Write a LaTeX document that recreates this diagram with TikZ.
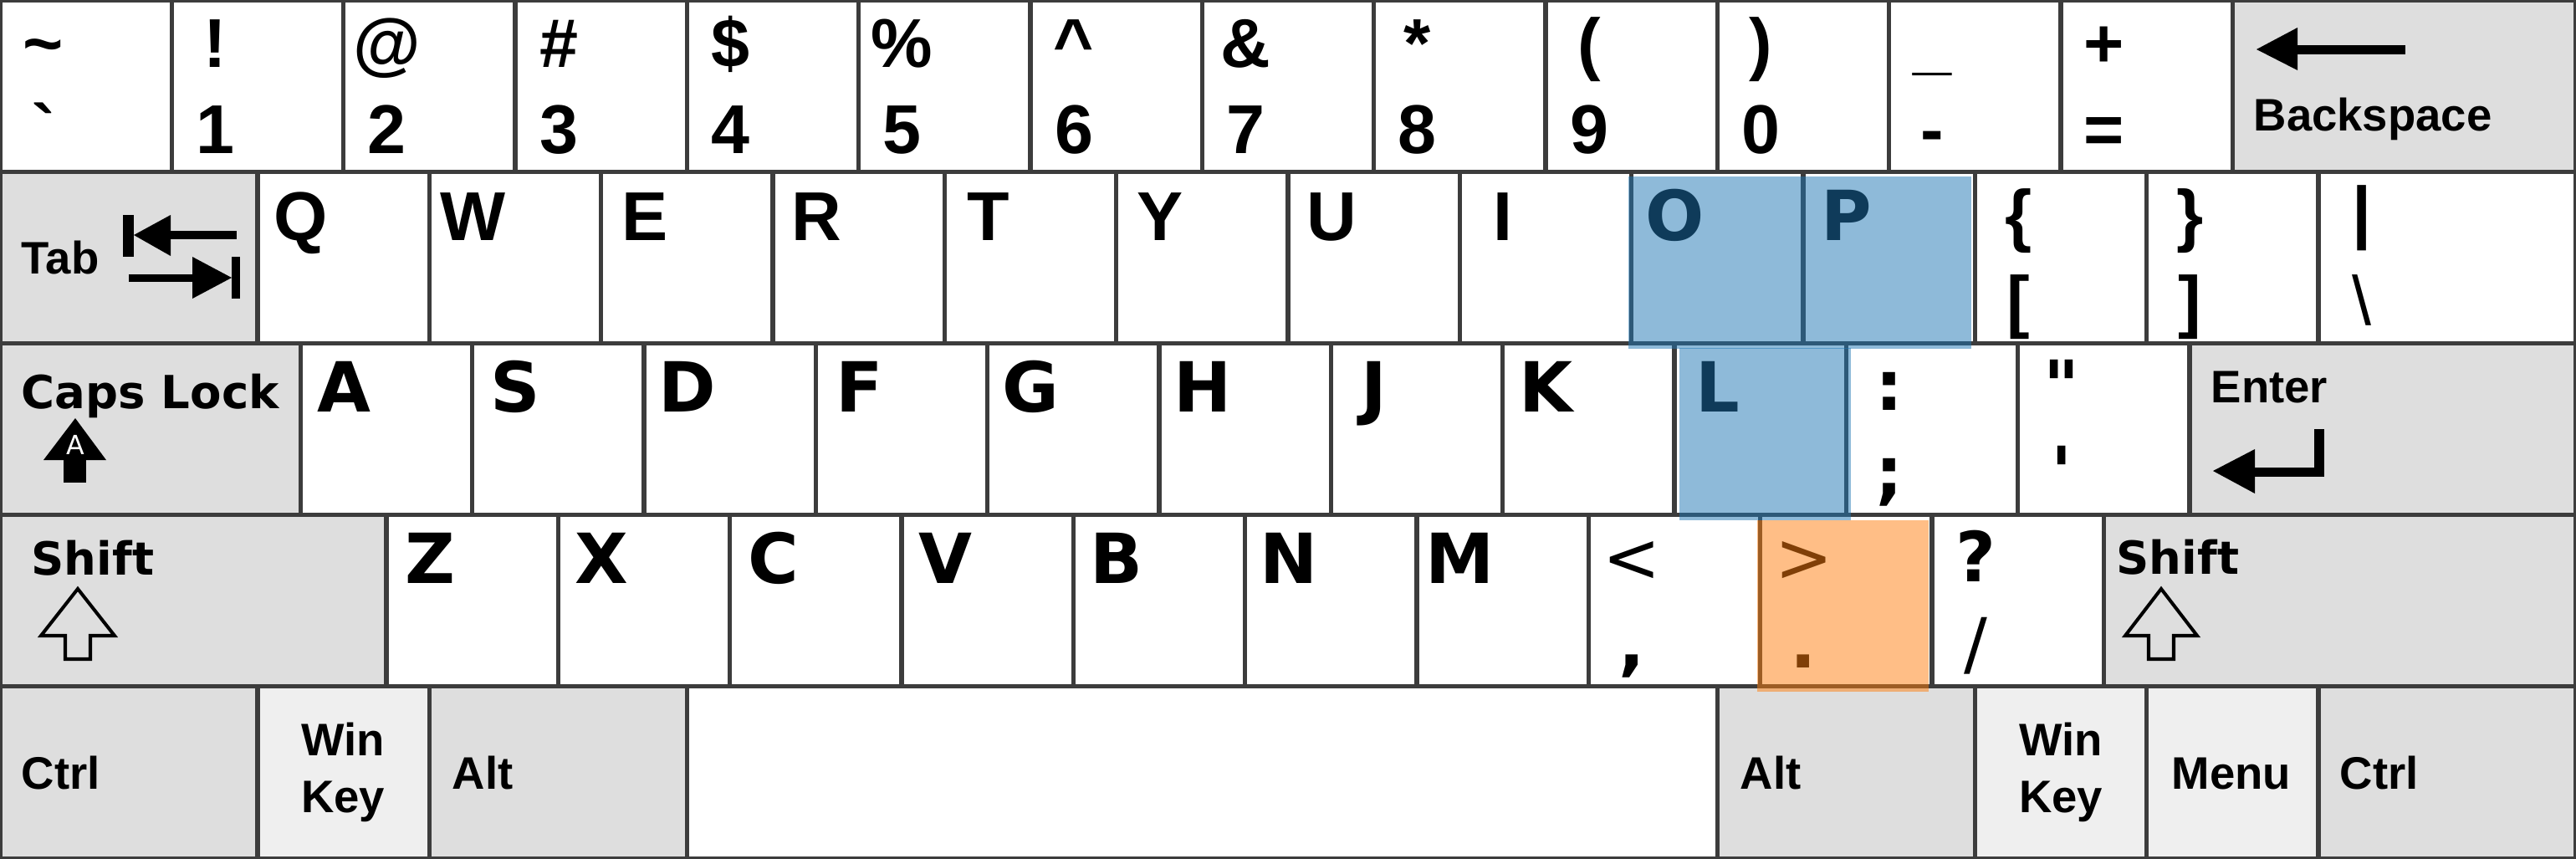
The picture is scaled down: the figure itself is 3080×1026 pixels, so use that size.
\documentclass[tikz,border=0pt]{standalone}
\usepackage{fontspec}
\newfontfamily\lib{Liberation Sans}
\newfontfamily\dej{DejaVu Sans}
\usetikzlibrary{calc}
\definecolor{keyline}{HTML}{3C3C3C}
\definecolor{modgray}{HTML}{DEDEDE}
\definecolor{wingray}{HTML}{EFEFEF}
\definecolor{tabblue}{HTML}{1F77B4}
\definecolor{taborange}{HTML}{FF7F0E}
\def\ku{205.333}
\def\kh{205.2}
\newcommand\duo[4]{%
  \node[#1] (#2-t) at ($(#2.north west)+(52,80)$) {#3};
  \node[#1] (#2-b) at ($(#2.north west)+(52,183)$) {#4};}
\newcommand\uno[3]{\node[#1] (#2-t) at ($(#2.north west)+(52,82)$) {#3};}
\begin{document}
\begin{tikzpicture}[x=0.01cm,y=-0.01cm,
  keybox/.style={draw=keyline,line width=1.5pt,rectangle,anchor=north west,
    inner sep=0pt,outer sep=0pt,minimum height=2.052cm},
  big/.style={font=\lib\bfseries\fontsize{23.5}{26}\selectfont,anchor=base,inner sep=0pt},
  bigd/.style={font=\dej\bfseries\fontsize{23.5}{26}\selectfont,anchor=base,inner sep=0pt},
  bigdr/.style={font=\dej\fontsize{23.5}{26}\selectfont,anchor=base,inner sep=0pt},
  bigr/.style={font=\lib\fontsize{23.5}{26}\selectfont,anchor=base,inner sep=0pt},
  small/.style={font=\lib\bfseries\fontsize{15.5}{18}\selectfont,anchor=base west,inner sep=0pt},
  smallc/.style={font=\lib\bfseries\fontsize{15.5}{18}\selectfont,anchor=base,inner sep=0pt},
  smalld/.style={font=\dej\bfseries\fontsize{15.5}{18}\selectfont,anchor=base west,inner sep=0pt},
  icon/.style={fill=black},
  hollow/.style={draw=black,line width=1.15pt,line join=miter},
  hlblue/.style={fill=tabblue,fill opacity=0.5},
  hlorange/.style={fill=taborange,fill opacity=0.5}]
\useasboundingbox (0,0) rectangle (3080,1026);
% ---------- row 1
\foreach \i in {0,...,12}
  \node[keybox,fill=white,minimum width=\ku*0.01cm] (r1k\i) at (\i*\ku,0) {};
\node[keybox,fill=modgray,minimum width=2*\ku*0.01cm] (r1bs) at (13*\ku,0) {};
% ---------- row 2
\node[keybox,fill=modgray,minimum width=1.5*\ku*0.01cm] (r2tab) at (0,\kh) {};
\foreach \i in {0,...,11}
  \node[keybox,fill=white,minimum width=\ku*0.01cm] (r2k\i) at ({(1.5+\i)*\ku},\kh) {};
\node[keybox,fill=white,minimum width=1.5*\ku*0.01cm] (r2k12) at (13.5*\ku,\kh) {};
% ---------- row 3
\node[keybox,fill=modgray,minimum width=1.75*\ku*0.01cm] (r3caps) at (0,2*\kh) {};
\foreach \i in {0,...,10}
  \node[keybox,fill=white,minimum width=\ku*0.01cm] (r3k\i) at ({(1.75+\i)*\ku},2*\kh) {};
\node[keybox,fill=modgray,minimum width=2.25*\ku*0.01cm] (r3ent) at (12.75*\ku,2*\kh) {};
% ---------- row 4
\node[keybox,fill=modgray,minimum width=2.25*\ku*0.01cm] (r4shl) at (0,3*\kh) {};
\foreach \i in {0,...,9}
  \node[keybox,fill=white,minimum width=\ku*0.01cm] (r4k\i) at ({(2.25+\i)*\ku},3*\kh) {};
\node[keybox,fill=modgray,minimum width=2.75*\ku*0.01cm] (r4shr) at (12.25*\ku,3*\kh) {};
% ---------- row 5
\node[keybox,fill=modgray,minimum width=1.5*\ku*0.01cm] (r5ctl) at (0,4*\kh) {};
\node[keybox,fill=wingray,minimum width=\ku*0.01cm] (r5wnl) at (1.5*\ku,4*\kh) {};
\node[keybox,fill=modgray,minimum width=1.5*\ku*0.01cm] (r5alt) at (2.5*\ku,4*\kh) {};
\node[keybox,fill=white,minimum width=6*\ku*0.01cm] (r5sp) at (4*\ku,4*\kh) {};
\node[keybox,fill=modgray,minimum width=1.5*\ku*0.01cm] (r5alr) at (10*\ku,4*\kh) {};
\node[keybox,fill=wingray,minimum width=\ku*0.01cm] (r5wnr) at (11.5*\ku,4*\kh) {};
\node[keybox,fill=wingray,minimum width=\ku*0.01cm] (r5men) at (12.5*\ku,4*\kh) {};
\node[keybox,fill=modgray,minimum width=1.5*\ku*0.01cm] (r5ctr) at (13.5*\ku,4*\kh) {};
% ---------- labels row 1
\duo{big}{r1k0}{\textasciitilde}{\symbol{"60}}
\duo{big}{r1k1}{!}{1}
\duo{big}{r1k2}{@}{2}
\duo{big}{r1k3}{\#}{3}
\duo{big}{r1k4}{\$}{4}
\duo{big}{r1k5}{\%}{5}
\duo{big}{r1k6}{\textasciicircum}{6}
\duo{big}{r1k7}{\&}{7}
\duo{big}{r1k8}{*}{8}
\duo{big}{r1k9}{(}{9}
\duo{big}{r1k10}{)}{0}
\duo{big}{r1k11}{\_}{-}
\duo{big}{r1k12}{+}{=}
\node[small] (bstxt) at (2694,156) {Backspace};
\fill[icon] (2698,59) -- (2747,33) -- (2747,84) -- cycle;
\fill[icon] (2745,54) rectangle (2876,65);
% ---------- labels row 2
\node[small] (tabtxt) at (25,327) {Tab};
\fill[icon] (147,257) rectangle (160,307);
\fill[icon] (160,281) -- (204,257) -- (204,306) -- cycle;
\fill[icon] (202,276) rectangle (283,286);
\fill[icon] (154,328) rectangle (232,337);
\fill[icon] (230,307) -- (277,332) -- (230,357) -- cycle;
\fill[icon] (277,307) rectangle (287,357);
\uno{big}{r2k0}{Q}
\uno{big}{r2k1}{W}
\uno{big}{r2k2}{E}
\uno{big}{r2k3}{R}
\uno{big}{r2k4}{T}
\uno{big}{r2k5}{Y}
\uno{big}{r2k6}{U}
\uno{big}{r2k7}{I}
\uno{bigd}{r2k8}{O}
\uno{bigd}{r2k9}{P}
\duo{big}{r2k10}{\{}{[}
\duo{big}{r2k11}{\}}{]}
\node[big] (r2k12-t) at ($(r2k12.north west)+(52,76)$) {|};
\node[bigr] (r2k12-b) at ($(r2k12.north west)+(52,183)$) {\textbackslash};
% ---------- labels row 3
\node[smalld] (capstxt) at (25,488) {Caps Lock};
\fill[icon] (90,500) -- (127,550) -- (52,550) -- cycle;
\fill[icon] (76,549) rectangle (103,577);
\node[font=\dej\fontsize{9}{10}\selectfont,text=white,anchor=base,inner sep=0pt] (capsA) at (90,543) {A};
\uno{bigd}{r3k0}{A}
\uno{bigd}{r3k1}{S}
\uno{bigd}{r3k2}{D}
\uno{bigd}{r3k3}{F}
\uno{bigd}{r3k4}{G}
\uno{bigd}{r3k5}{H}
\uno{bigd}{r3k6}{J}
\uno{bigd}{r3k7}{K}
\uno{bigd}{r3k8}{L}
\duo{bigd}{r3k9}{:}{;}
\duo{bigd}{r3k10}{\symbol{"22}}{\symbol{"27}}
\node[small] (entxt) at (2643,481) {Enter};
\fill[icon] (2767,513) rectangle (2779,570);
\fill[icon] (2694,559) rectangle (2779,570);
\fill[icon] (2646,563) -- (2696,537) -- (2696,590) -- cycle;
% ---------- labels row 4
\node[smalld] (shltxt) at (37,687) {Shift};
\draw[hollow] (93,704) -- (137,760) -- (108,760) -- (108,788) -- (78,788) -- (78,760) -- (49,760) -- cycle;
\node[smalld] (shrtxt) at (2530,686) {Shift};
\draw[hollow] (2584,704) -- (2627,760) -- (2599,760) -- (2599,788) -- (2569,788) -- (2569,760) -- (2541,760) -- cycle;
\uno{bigd}{r4k0}{Z}
\uno{bigd}{r4k1}{X}
\uno{bigd}{r4k2}{C}
\uno{bigd}{r4k3}{V}
\uno{bigd}{r4k4}{B}
\uno{bigd}{r4k5}{N}
\uno{bigd}{r4k6}{M}
\node[bigdr] (r4k7-t) at ($(r4k7.north west)+(52,80)$) {<};
\node[bigd] (r4k7-b) at ($(r4k7.north west)+(52,183)$) {,};
\node[bigdr] (r4k8-t) at ($(r4k8.north west)+(52,80)$) {>};
\node[bigd] (r4k8-b) at ($(r4k8.north west)+(52,183)$) {.};
\node[bigd] (r4k9-t) at ($(r4k9.north west)+(52,80)$) {?};
\node[bigdr] (r4k9-b) at ($(r4k9.north west)+(52,183)$) {/};
% ---------- labels row 5
\node[small] (ctltxt) at (25,943) {Ctrl};
\node[smallc] (wnl1) at (410,903) {Win};
\node[smallc] (wnl2) at (410,971) {Key};
\node[small] (alttxt) at (540,943) {Alt};
\node[small] (alrtxt) at (2080,943) {Alt};
\node[smallc] (wnr1) at (2464,903) {Win};
\node[smallc] (wnr2) at (2464,971) {Key};
\node[smallc] (mentxt) at (2668,943) {Menu};
\node[small] (ctrtxt) at (2797,943) {Ctrl};
% ---------- highlights
\fill[hlblue] ($(r2k8.north west)+(-4,6)$) rectangle ($(r2k9.south east)+(-4,6)$);
\fill[hlblue] ($(r3k8.north west)+(6,6)$) rectangle ($(r3k8.south east)+(6,6)$);
\fill[hlorange] ($(r4k8.north west)+(-4,6)$) rectangle ($(r4k8.south east)+(-4,6)$);
\end{tikzpicture}
\end{document}
